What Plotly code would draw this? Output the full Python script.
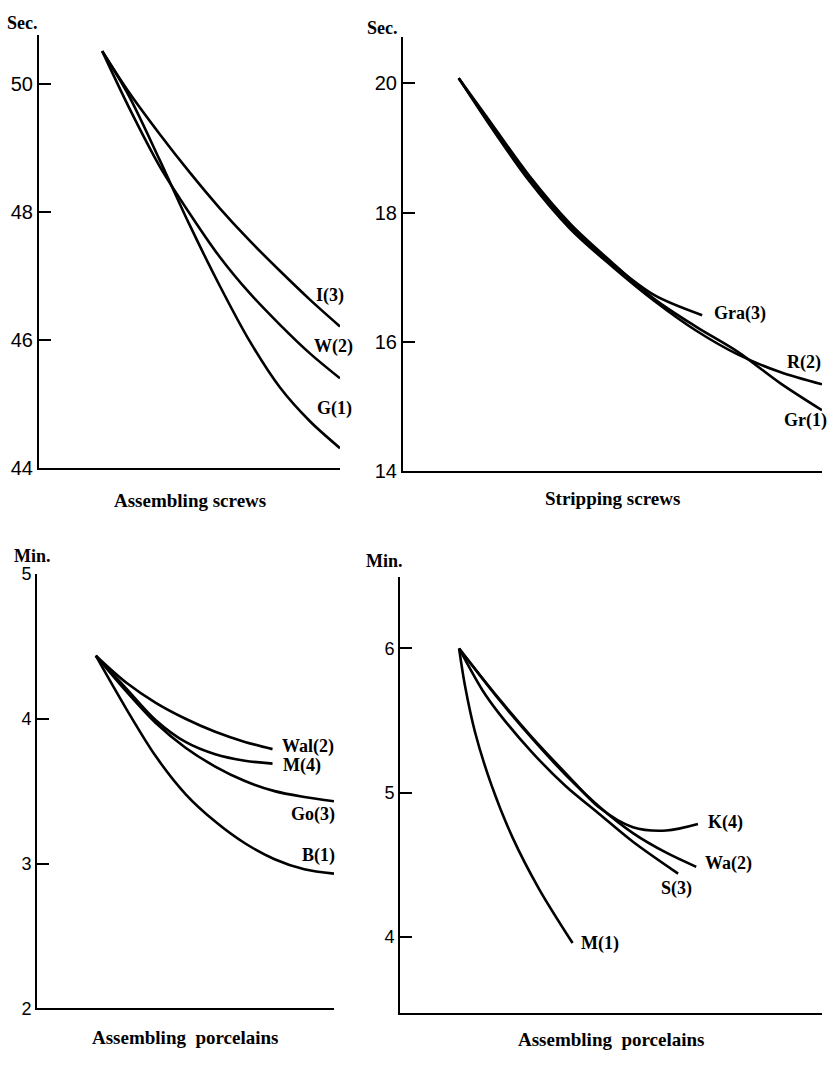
import plotly.graph_objects as go

W, H = 834, 1088

# ---- data (x = relative position along the practice period, 0-100) ----
# Assembling screws (sec.)
a_x = [21, 30, 40, 50, 60, 70, 80, 90, 100]
a_i3 = [50.51, 49.86, 49.22, 48.62, 48.06, 47.55, 47.08, 46.63, 46.21]
a_w2 = [50.51, 49.62, 48.72, 47.98, 47.30, 46.73, 46.24, 45.79, 45.40]
a_g1 = [50.51, 49.80, 48.82, 47.80, 46.85, 45.98, 45.26, 44.73, 44.31]

# Stripping screws (sec.)
b_x = [13.3, 20, 30, 40, 50, 60, 70, 80, 90, 100]
b_gr1 = [20.08, 19.48, 18.58, 17.82, 17.22, 16.66, 16.23, 15.84, 15.36, 14.94]
b_r2 = [20.08, 19.42, 18.50, 17.74, 17.16, 16.63, 16.17, 15.80, 15.53, 15.34]
b_gra_x = [13.3, 20, 30, 40, 50, 60, 71.4]
b_gra3 = [20.08, 19.45, 18.55, 17.78, 17.20, 16.72, 16.41]

# Assembling porcelains (min.), left
c_x = [19.8, 30, 40, 50, 60, 70, 80, 90, 100]
c_b1 = [4.435, 4.07, 3.74, 3.48, 3.29, 3.14, 3.03, 2.96, 2.93]
c_go3 = [4.435, 4.19, 3.97, 3.80, 3.67, 3.57, 3.50, 3.46, 3.43]
c_short_x = [19.8, 30, 40, 50, 60, 70, 79.3]
c_wal2 = [4.435, 4.25, 4.11, 4.00, 3.91, 3.84, 3.79]
c_m4 = [4.435, 4.21, 3.99, 3.84, 3.755, 3.71, 3.69]

# Assembling porcelains (min.), right
d_m1_x = [14.0, 15.4, 17.8, 21.7, 26.6, 33.0, 40.9]
d_m1 = [6.0, 5.741, 5.417, 5.050, 4.693, 4.329, 3.956]
d_wa2_x = [14.0, 23.5, 31.4, 39.3, 47.3, 55.2, 63.1, 70.2]
d_wa2 = [6.0, 5.644, 5.372, 5.122, 4.900, 4.719, 4.583, 4.485]
d_s3_x = [14.0, 19.5, 23.5, 31.4, 39.3, 47.3, 55.2, 65.9]
d_s3 = [6.0, 5.712, 5.548, 5.276, 5.044, 4.850, 4.659, 4.438]
d_k4_x = [14.0, 23.5, 31.4, 39.4, 47.3, 55.2, 63.1, 70.6]
d_k4 = [6.0, 5.650, 5.380, 5.130, 4.895, 4.760, 4.737, 4.782]

# panel boxes in page pixels (left, right, top, bottom) and text placement
panels = {
    "": dict(box=(39, 340, 25, 467), yr=[44, 50.77], tv=[44, 46, 48, 50],
             unit="Sec.", ux=1, uy=-12, ua="right",
             title="Assembling screws", ty=33, tsize=20),
    "2": dict(box=(403, 822, 28, 470), yr=[14, 20.71], tv=[14, 16, 18, 20],
              unit="Sec.", ux=-3, uy=-10, ua="right",
              title="Stripping screws", ty=28, tsize=20),
    "3": dict(box=(37, 334, 575, 1018), yr=[2, 5], tv=[2, 3, 4, 5],
              unit="Min.", ux=-5, uy=-18, ua="center",
              title="Assembling  porcelains", ty=30, tsize=18),
    "4": dict(box=(400, 822, 578, 1023), yr=[3.469, 6.497], tv=[4, 5, 6],
              unit="Min.", ux=5, uy=-16, ua="right",
              title="Assembling  porcelains", ty=27, tsize=18),
}

# series: (axis suffix, x, y, label, xanchor, xshift, yshift)
series = [
    ("", a_x, a_i3, "I(3)", "center", -10, 31),
    ("", a_x, a_w2, "W(2)", "center", -7, 32),
    ("", a_x, a_g1, "G(1)", "center", -6, 40),
    ("2", b_gra_x, b_gra3, "Gra(3)", "left", 10, 2),
    ("2", b_x, b_r2, "R(2)", "center", -18, 22),
    ("2", b_x, b_gr1, "Gr(1)", "center", -17, -10),
    ("3", c_short_x, c_wal2, "Wal(2)", "left", 7, 3),
    ("3", c_short_x, c_m4, "M(4)", "left", 8, -2),
    ("3", c_x, c_go3, "Go(3)", "center", -21, -13),
    ("3", c_x, c_b1, "B(1)", "center", -16, 18),
    ("4", d_k4_x, d_k4, "K(4)", "left", 8, 2),
    ("4", d_wa2_x, d_wa2, "Wa(2)", "left", 7, 3),
    ("4", d_s3_x, d_s3, "S(3)", "center", -2, -15),
    ("4", d_m1_x, d_m1, "M(1)", "left", 6, 0),
]

serif = "Liberation Serif, Times New Roman, serif"
sans = "Liberation Sans, Arial, sans-serif"

fig = go.Figure()
annotations = []

for suf, xs, ys, label, xa, dx, dy in series:
    fig.add_trace(go.Scatter(
        x=xs, y=ys, xaxis="x" + suf, yaxis="y" + suf, mode="lines",
        line=dict(color="black", width=2.6, shape="spline", smoothing=0.9),
        hoverinfo="skip", showlegend=False))
    # curve label placed relative to the curve's last point
    annotations.append(dict(
        x=xs[-1], y=ys[-1], xref="x" + suf, yref="y" + suf, text="<b>%s</b>" % label,
        showarrow=False, xanchor=xa, yanchor="middle", xshift=dx, yshift=dy,
        font=dict(family=serif, size=18, color="black")))

layout = dict(width=W, height=H, margin=dict(l=0, r=0, t=0, b=0),
              plot_bgcolor="white", paper_bgcolor="white", showlegend=False)

for suf, p in panels.items():
    l, r, t, b = p["box"]
    layout["xaxis" + suf] = dict(
        domain=[l / W, r / W], range=[0, 100], anchor="y" + suf,
        showline=True, linecolor="black", linewidth=2, showgrid=False,
        zeroline=False, showticklabels=False, ticks="")
    layout["yaxis" + suf] = dict(
        domain=[1 - b / H, 1 - t / H], range=p["yr"], anchor="x" + suf,
        showline=True, linecolor="black", linewidth=2, showgrid=False,
        zeroline=False, tickvals=p["tv"], ticks="inside", ticklen=12,
        tickwidth=2, tickcolor="black", ticklabelstandoff=0,
        tickfont=dict(family=sans, size=p["tsize"], color="black"))
    # unit label above the y axis
    annotations.append(dict(
        x=l / W, y=1 - (t + p["uy"]) / H, xref="paper", yref="paper",
        text="<b>%s</b>" % p["unit"], showarrow=False, xanchor=p["ua"],
        yanchor="middle", xshift=p["ux"],
        font=dict(family=serif, size=18, color="black")))
    # panel caption below the x axis
    annotations.append(dict(
        x=(l + r) / 2 / W, y=1 - (b + p["ty"]) / H, xref="paper", yref="paper",
        text="<b>%s</b>" % p["title"].replace("  ", "&nbsp;&nbsp;"),
        showarrow=False, xanchor="center", yanchor="middle",
        font=dict(family=serif, size=19, color="black")))

layout["annotations"] = annotations
fig.update_layout(**layout)

# drop the default 8px body margin so page pixels match figure pixels
fig.write_html("out.html", config={"displayModeBar": False},
               post_script="document.body.style.margin='0';"
               "document.body.style.overflow='hidden';")
